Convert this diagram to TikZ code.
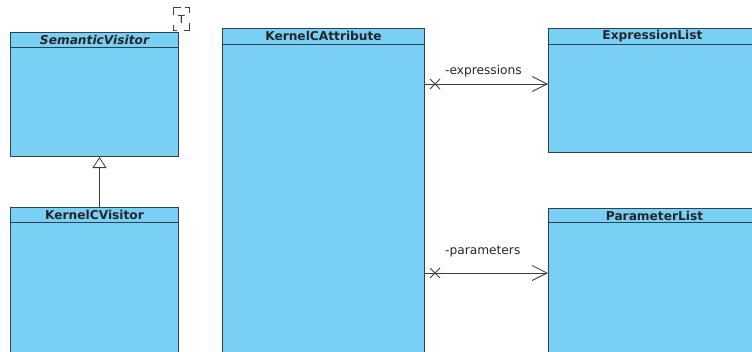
\documentclass[tikz,border=0pt]{standalone}
\usepackage{fontspec}
\setmainfont{DejaVu Sans}
\usetikzlibrary{arrows.meta,calc}
\definecolor{umlblue}{RGB}{122,207,244}
\definecolor{umledge}{RGB}{44,66,80}
\definecolor{linkgray}{RGB}{60,60,60}
\begin{document}
\begin{tikzpicture}[x=1pt,y=-1pt]
\useasboundingbox (0,0) rectangle (752,351);
\clip (0,0) rectangle (752,351);
\tikzset{
  classbox/.style={draw=umledge, fill=umlblue, line width=1pt, anchor=north west, inner sep=0pt},
  classname/.style={font=\fontsize{12.2}{14}\selectfont\bfseries, text=black!85, inner sep=0pt, anchor=center},
  divider/.style={draw=umledge, line width=0.9pt},
  assoc/.style={draw=linkgray, line width=0.8pt, -{Straight Barb[length=15pt,width=15pt,line width=0.8pt]}},
  xmark/.style={draw=linkgray, line width=0.8pt},
  generalize/.style={draw=linkgray, line width=0.8pt, -{Triangle[open,length=11pt,width=14pt,line width=0.8pt,fill=white]}},
  rolelabel/.style={font=\fontsize{12.2}{14}\selectfont, text=black!85, inner sep=0pt},
  tparam/.style={fill=white, minimum width=15pt, minimum height=23pt, inner sep=0pt,
    font=\fontsize{11}{12}\selectfont, text=black!85},
  tcorner/.style={draw=black!75, line width=0.9pt}
}

% class boxes
\node[classbox, minimum width=168pt, minimum height=124pt] (sv) at (10,32) {};
\node[classbox, minimum width=168pt, minimum height=200pt] (kv) at (10,207) {};
\node[classbox, minimum width=202pt, minimum height=380pt] (ka) at (222,28) {};
\node[classbox, minimum width=208pt, minimum height=124pt] (el) at (548,28) {};
\node[classbox, minimum width=212pt, minimum height=200pt] (pl) at (548,208) {};

% name compartments
\draw[divider] ($(sv.north west)+(0,15)$) -- ($(sv.north east)+(0,15)$);
\draw[divider] ($(kv.north west)+(0,15)$) -- ($(kv.north east)+(0,15)$);
\draw[divider] ($(ka.north west)+(0,16)$) -- ($(ka.north east)+(0,16)$);
\draw[divider] ($(el.north west)+(0,16)$) -- ($(el.north east)+(0,16)$);
\draw[divider] ($(pl.north west)+(0,14)$) -- ($(pl.north east)+(0,14)$);

\node[classname, font=\fontsize{12.2}{14}\selectfont\bfseries\itshape] (svname) at ($(sv.north)+(0,8)$) {SemanticVisitor};
\node[classname] (kvname) at ($(kv.north)+(0,8)$) {KernelCVisitor};
\node[classname] (kaname) at ($(ka.north)+(0,8)$) {KernelCAttribute};
\node[classname] (elname) at ($(el.north)+(0,8.5)$) {ExpressionList};
\node[classname] (plname) at ($(pl.north)+(0,7.5)$) {ParameterList};

% template parameter, drawn as corner brackets
\node[tparam] (tp) at (181.5,19) {T};
\draw[tcorner] ($(tp.north west)+(0,8)$) -- (tp.north west) -- ($(tp.north west)+(7,0)$);
\draw[tcorner] ($(tp.north east)+(-4,0)$) -- (tp.north east) -- ($(tp.north east)+(0,6)$);
\draw[tcorner] ($(tp.south west)+(0,-6)$) -- (tp.south west) -- ($(tp.south west)+(3,0)$);
\draw[tcorner] ($(tp.south east)+(-5,0)$) -- (tp.south east) -- ($(tp.south east)+(0,-8)$);

% inheritance
\draw[generalize] ($(kv.north)+(5,0)$) -- ($(sv.south)+(5,0)$);

% associations
\coordinate (ea) at ($(ka.north east)+(0,56)$);
\coordinate (eb) at ($(el.north west)+(0,56)$);
\draw[assoc] (ea) -- (eb);
\draw[xmark] ($(ea)+(5,-5)$) -- ($(ea)+(15,5)$) ($(ea)+(5,5)$) -- ($(ea)+(15,-5)$);
\node[rolelabel, anchor=west] (elabel) at ($(ea)+(20,-13)$) {-expressions};

\coordinate (pa) at ($(ka.north east)+(0,245)$);
\coordinate (pb) at ($(pl.north west)+(0,65)$);
\draw[assoc] (pa) -- (pb);
\draw[xmark] ($(pa)+(5,-5)$) -- ($(pa)+(15,5)$) ($(pa)+(5,5)$) -- ($(pa)+(15,-5)$);
\node[rolelabel, anchor=west] (plabel) at ($(pa)+(20,-22)$) {-parameters};
\end{tikzpicture}
\end{document}
